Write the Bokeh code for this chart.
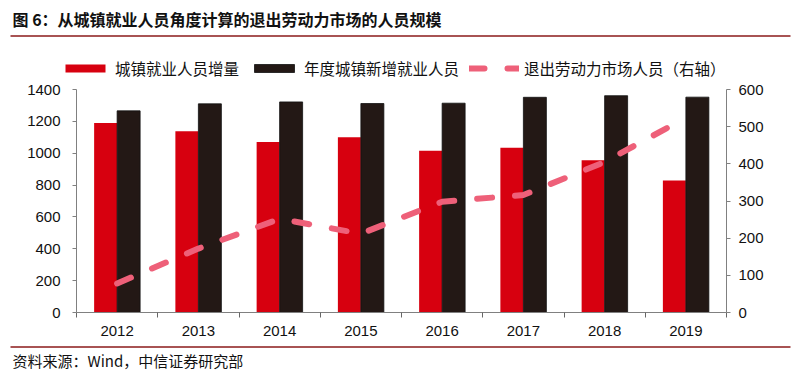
from bokeh.plotting import figure
from bokeh.models import (Range1d, LinearAxis, FixedTicker, Label, Legend, LegendItem,
                          BoxAnnotation, ColumnDataSource)
from bokeh.transform import dodge
from bokeh.embed import file_html
from bokeh.resources import INLINE

years = ["2012", "2013", "2014", "2015", "2016", "2017", "2018", "2019"]
urban_increase = [1190, 1138, 1070, 1100, 1016, 1035, 956, 828]
new_jobs = [1266, 1310, 1322, 1312, 1314, 1351, 1361, 1352]
exit_labor = [78, 172, 252, 212, 298, 316, 405, 524]
left_ticks = [0, 200, 400, 600, 800, 1000, 1200, 1400]
right_ticks = [0, 100, 200, 300, 400, 500, 600]

TITLE = "图 6：从城镇就业人员角度计算的退出劳动力市场的人员规模"
SOURCE = "资料来源：Wind，中信证券研究部"
NAMES = ["城镇就业人员增量", "年度城镇新增就业人员", "退出劳动力市场人员（右轴）"]

RED = "#D7000F"
BLACK = "#231815"
PINK = "#EE6079"
DARKRED = "#8B1A1A"
AXIS = "#808080"
CJK = "Noto Sans CJK SC"
LAT = "Liberation Sans"

# canvas geometry (pixels): the frame covers the whole canvas, the plot box sits inside
W, H = 792, 372
PL, PR, PT, PB = 76, 726, 89, 312   # plot box edges in canvas pixels
n = len(years)
LMAX, RMAX = left_ticks[-1], right_ticks[-1]

xpx = (PR - PL) / n
x0 = -0.5 - PL / xpx
ly = LMAX / (PB - PT)
ry = RMAX / (PB - PT)

p = figure(width=W, height=H, output_backend="svg", toolbar_location=None,
           x_range=Range1d(x0, x0 + W / xpx),
           y_range=Range1d(-(H - PB) * ly, LMAX + PT * ly),
           min_border=0, x_axis_location=None, y_axis_location=None)
p.outline_line_color = None
p.grid.visible = False
p.extra_y_ranges = {"right": Range1d(-(H - PB) * ry, RMAX + PT * ry)}

idx = list(range(n))
src = ColumnDataSource(dict(x=idx, red=urban_increase, black=new_jobs, line=exit_labor))

w = 0.283
r1 = p.vbar(x=dodge("x", -w / 2), top="red", width=w, source=src, fill_color=RED, line_color=None)
r2 = p.vbar(x=dodge("x", w / 2), top="black", width=w, source=src, fill_color=BLACK,
            line_color="#111111", line_width=0.8)
r3 = p.line(x="x", y="line", source=src, y_range_name="right", line_color=PINK,
            line_width=6, line_dash="15 23", line_cap="round")


def style(ax, standoff):
    ax.major_tick_in = 0
    ax.major_tick_out = 4
    ax.minor_tick_line_color = None
    ax.axis_line_color = AXIS
    ax.major_tick_line_color = AXIS
    ax.major_label_standoff = standoff
    ax.major_label_text_font = LAT
    ax.major_label_text_font_size = "15px"
    ax.major_label_text_color = "#111111"


xa = LinearAxis(ticker=FixedTicker(ticks=idx, minor_ticks=[i - 0.5 for i in range(n + 1)]),
                fixed_location=0, bounds=(-0.5, n - 0.5))
style(xa, 8)
xa.major_label_overrides = {i: y for i, y in zip(idx, years)}
xa.major_tick_line_color = None
xa.minor_tick_out = 5
xa.minor_tick_in = 0
xa.minor_tick_line_color = "#666666"
p.add_layout(xa, "below")

ya = LinearAxis(ticker=FixedTicker(ticks=left_ticks), fixed_location=-0.5, bounds=(0, LMAX))
style(ya, 12)
p.add_layout(ya, "left")

ra = LinearAxis(y_range_name="right", ticker=FixedTicker(ticks=right_ticks),
                fixed_location=n - 0.5, bounds=(0, RMAX))
style(ra, 8)
p.add_layout(ra, "right")

legend = Legend(items=[LegendItem(label=NAMES[0], renderers=[r1]),
                       LegendItem(label=NAMES[1], renderers=[r2]),
                       LegendItem(label=NAMES[2], renderers=[r3])],
                orientation="horizontal", location=(60, H - 79),
                glyph_width=50, glyph_height=10, label_standoff=5, spacing=10,
                padding=0, margin=0, border_line_color=None, background_fill_alpha=0,
                label_text_font=CJK, label_text_font_size="15.5px", label_text_color="#111111")
p.add_layout(legend, "center")

p.add_layout(Label(x=12, y=H - 18, x_units="screen", y_units="screen", text=TITLE,
                   text_font=CJK, text_font_size="16px", text_baseline="middle",
                   text_color="#111111", text_font_style="bold"))
p.add_layout(Label(x=12, y=H - 360, x_units="screen", y_units="screen", text=SOURCE,
                   text_font=CJK, text_font_size="15px", text_baseline="middle",
                   text_color="#111111"))
for yy in (35.5, 346.5):
    p.add_layout(BoxAnnotation(left=10, right=790, bottom=H - yy - 0.75, top=H - yy + 0.75,
                               left_units="screen", right_units="screen",
                               bottom_units="screen", top_units="screen",
                               fill_color=DARKRED, fill_alpha=1, line_color=None))

open("out.html", "w").write(file_html(p, INLINE))
